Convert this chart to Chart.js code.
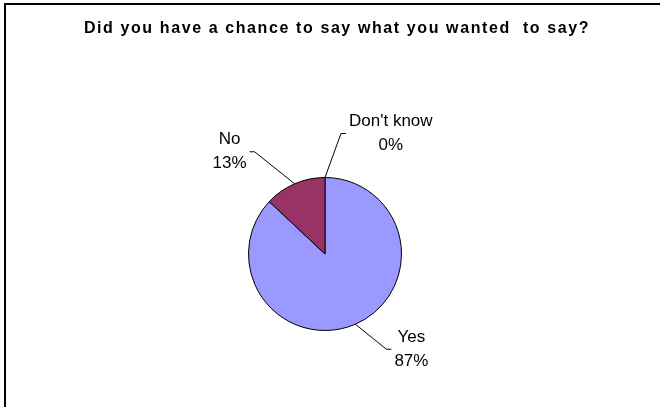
<!DOCTYPE html>
<html>
<head>
<meta charset="utf-8">
<script src="https://cdn.jsdelivr.net/npm/chart.js@4"></script>
<style>
  html, body { margin: 0; padding: 0; background: #fff; }
  #wrap { width: 660px; height: 407px; }
</style>
</head>
<body>
<div id="wrap"><canvas id="pieChart" width="660" height="407"></canvas></div>
<script>
    const titleText = 'Did you have a chance to say what you wanted  to say?';
    const answers = ['Yes', 'No', "Don't know"];
    const shares = [87, 13, 0];
    const sliceColors = ['#9999FF', '#993366', '#FFFFCC'];

    // where each leader line bends, relative to the slice's outer edge
    const leaderBends = [[31, 25], [-40, -32], [16, -44]];

    const labelFont = '17px "Liberation Sans", Arial, sans-serif';

    // frame, title and the value labels with their leader lines
    const excelLook = {
      id: 'excelLook',
      afterDraw(chart) {
        const ctx = chart.ctx;
        ctx.save();

        ctx.strokeStyle = '#000';
        ctx.lineWidth = 2;
        ctx.strokeRect(5, 4, 720, 480);

        ctx.fillStyle = '#000';
        ctx.font = 'bold 16px "Liberation Sans", Arial, sans-serif';
        ctx.textAlign = 'center';
        ctx.textBaseline = 'middle';
        ctx.letterSpacing = '1.6px';
        ctx.fillText(titleText, 337, 29);
        ctx.letterSpacing = '0px';

        const meta = chart.getDatasetMeta(0);
        const values = chart.data.datasets[0].data;
        const total = values.reduce((a, b) => a + b, 0);
        ctx.font = labelFont;
        ctx.lineWidth = 1;

        meta.data.forEach((arc, i) => {
          const mid = (arc.startAngle + arc.endAngle) / 2;
          const ex = arc.x + Math.cos(mid) * arc.outerRadius;
          const ey = arc.y + Math.sin(mid) * arc.outerRadius;
          const bx = ex + leaderBends[i][0];
          const by = ey + leaderBends[i][1];
          const side = leaderBends[i][0] >= 0 ? 1 : -1;
          const tx = bx + side * 5;

          ctx.beginPath();
          ctx.moveTo(ex, ey);
          ctx.lineTo(bx, by);
          ctx.lineTo(tx, by);
          ctx.stroke();

          const lines = [chart.data.labels[i], Math.round(values[i] / total * 100) + '%'];
          const w = Math.max(...lines.map(s => ctx.measureText(s).width));
          const cx = tx + side * (3 + w / 2);
          ctx.fillText(lines[0], cx, by - 12);
          ctx.fillText(lines[1], cx, by + 12);
        });

        ctx.restore();
      }
    };

    const pieChart = new Chart(document.getElementById('pieChart'), {
      type: 'pie',
      data: {
        labels: answers,
        datasets: [{
          data: shares,
          backgroundColor: sliceColors,
          borderColor: '#000',
          borderWidth: 1,
          radius: 76.5,
        }]
      },
      options: {
        responsive: false,
        animation: false,
        layout: { padding: { left: 230, right: 240, top: 160, bottom: 59 } },
        plugins: {
          legend: { display: false },
          title: { display: false },
          tooltip: { enabled: false }
        }
      },
      plugins: [excelLook]
    });
</script>
</body>
</html>
